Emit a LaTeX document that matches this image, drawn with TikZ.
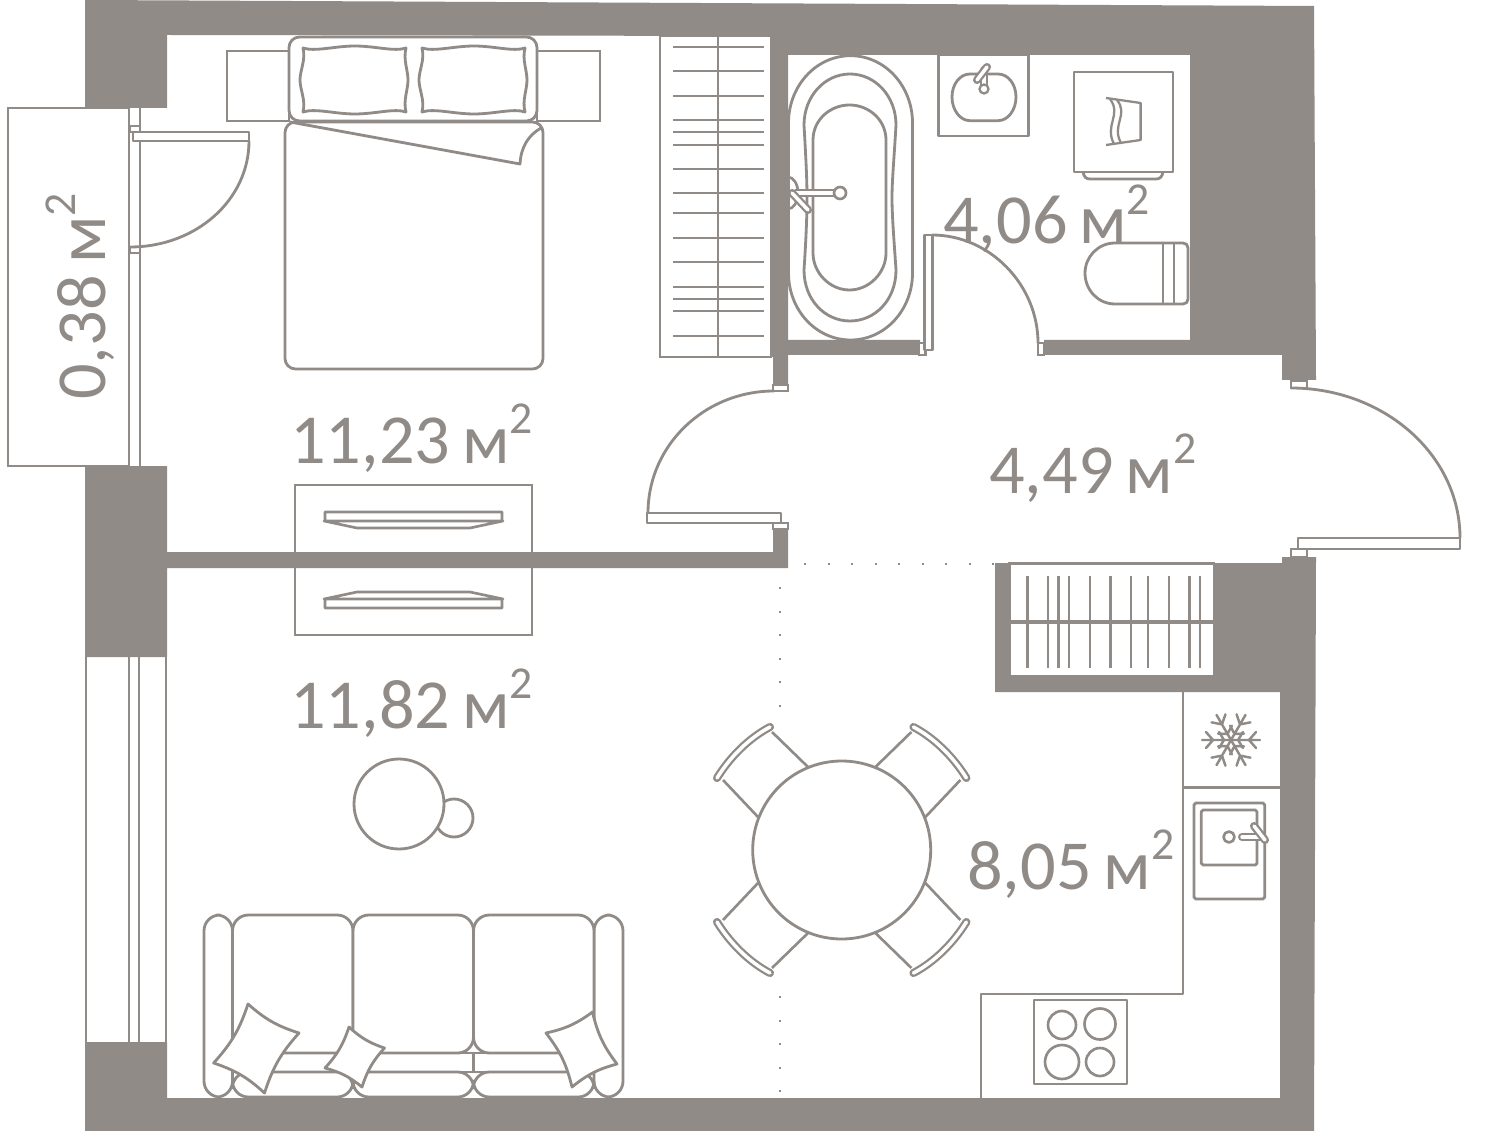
\documentclass[tikz,border=0pt]{standalone}
\usepackage{fontspec}
\setmainfont{Carlito}
\definecolor{wallgray}{RGB}{144,139,135}
\newcommand{\sqm}[1]{#1\,м\raisebox{0.425em}{\fontsize{26}{26}\selectfont 2}}
\newcommand{\flakearm}{\draw[thinline,line width=1.4pt,line cap=round] (0,0) -- (29,0) (18,0) -- (25,-8) (18,0) -- (25,8) (7,0) -- (12,-8) (7,0) -- (12,8);}
\newcommand{\bedpillow}{\draw[furn] (303,48) .. controls (315,52) and (335,46) .. (355,46) .. controls (375,46) and (395,52) .. (406,48) .. controls (403,60) and (408,70) .. (408,80) .. controls (408,90) and (403,100) .. (406,112) .. controls (395,108) and (375,114) .. (355,114) .. controls (335,114) and (315,108) .. (303,112) .. controls (306,100) and (300,90) .. (300,80) .. controls (300,70) and (306,60) .. (303,48) -- cycle;}
\tikzset{
	furn/.style={draw=wallgray,line width=1.6pt,fill=white,line join=round},
	outline/.style={draw=wallgray,line width=1.3pt,fill=white},
	thinline/.style={draw=wallgray,line width=1.5pt,line join=round},
	wall/.style={fill=wallgray},
	hingebox/.style={draw=wallgray,line width=1.2pt,fill=white},
	band/.style={draw=wallgray,line width=1.3pt,double=white,double distance=2pt,line cap=round},
	arealabel/.style={text=wallgray,font=\fontsize{40}{40}\selectfont,anchor=base west,inner sep=0pt},
	dots/.style={draw=wallgray,line width=1.2pt,dash pattern=on 1.2pt off 12.2pt}
}

\begin{document}
\begin{tikzpicture}[x=0.02cm,y=-0.02cm]
	\useasboundingbox (0,0) rectangle (1500,1131);
	% balcony and windows
	\draw[outline] (8,108) rectangle (129,466);
	\draw[outline] (129,108) -- (129,466) (140,108) -- (140,466);
	\draw[outline] (86,657) -- (86,1042) (129,657) -- (129,1042) (139,657) -- (139,1042) (166,657) -- (166,1042);
	% bedroom
	\draw[outline] (227,51) rectangle (289,121);
	\draw[outline] (537,51) rectangle (600,121);
	\draw[furn,rounded corners=6] (289,121) -- (289,37) -- (537,37) -- (537,121) -- cycle;
	\bedpillow
	\begin{scope}[shift={(119,0)}]\bedpillow\end{scope}
	\draw[furn,rounded corners=6] (285,122) rectangle (543,369);
	\draw[furn,fill=none] (290,122) -- (520,164) .. controls (521,146) and (529,135) .. (541,128);
	\draw[outline] (295,485) rectangle (532,560);
	\draw[outline] (295,560) rectangle (532,635);
	\draw[thinline] (325,512) rectangle (502,521) (324,521) -- (503,521) -- (470,528) -- (357,528) -- cycle;
	\draw[thinline] (325,599) rectangle (502,608) (324,599) -- (503,599) -- (470,592) -- (357,592) -- cycle;
	% wardrobe
	\draw[outline] (660,36) rectangle (771,357);
	\draw[thinline] (718,36) -- (718,357);
	\draw[thinline] (673,47) -- (764,47) (673,71) -- (764,71) (673,96) -- (764,96) (673,120) -- (764,120) (673,132) -- (764,132);
	\draw[thinline] (673,145) -- (764,145) (673,169) -- (764,169) (673,193) -- (764,193) (673,213) -- (764,213) (673,238) -- (764,238);
	\draw[thinline] (673,262) -- (764,262) (673,287) -- (764,287) (673,299) -- (764,299) (673,311) -- (764,311) (673,336) -- (764,336);
	% bathroom
	\draw[furn] (788.5,123) .. controls (788.5,86) and (816,55.7) .. (850.5,55.7) .. controls (885,55.7) and (912.5,86) .. (912.5,123) -- (912.5,273) .. controls (912.5,310) and (885,340) .. (850.5,340) .. controls (816,340) and (788.5,310) .. (788.5,273) -- cycle;
	\draw[furn] (804,125) .. controls (804,96) and (825,74) .. (850,74) .. controls (875,74) and (896,96) .. (896,125) .. controls (894,160) and (892,180) .. (892,198) .. controls (892,216) and (894,240) .. (896,270) .. controls (896,300) and (875,321) .. (850,321) .. controls (825,321) and (804,300) .. (804,270) .. controls (806,240) and (807,216) .. (807,198) .. controls (807,180) and (806,160) .. (804,125) -- cycle;
	\draw[furn] (813,140) .. controls (813,120) and (830,105) .. (849.5,105) .. controls (869,105) and (886,120) .. (886,140) -- (886,253) .. controls (886,273) and (869,290) .. (849.5,290) .. controls (830,290) and (813,273) .. (813,253) -- cycle;
	\draw[thinline] (788,193) ellipse [x radius=10,y radius=16];
	\draw[band] (796,193) -- (836,193);
	\draw[furn,line width=1.5pt] (840,193) circle [radius=6];
	\draw[band] (792,193) -- (808,210);
	\draw[furn] (938.5,55) rectangle (1028.4,136);
	\draw[furn,line width=1.6pt] (970,120.7) -- (998,120.7) .. controls (1008,120.7) and (1016,110) .. (1016,97) .. controls (1016,84) and (1008,74) .. (998,74) -- (970,74) .. controls (960,74) and (952,84) .. (952,97) .. controls (952,110) and (960,120.7) .. (970,120.7) -- cycle;
	\draw[band] (984,70) -- (984,87);
	\draw[furn,line width=1.3pt] (984,89) circle [radius=4.5];
	\draw[band] (977,80) -- (987,67);
	\draw[furn] (1074,72) rectangle (1173,172);
	\draw[furn,fill=none] (1083,172) .. controls (1084,177) and (1086,179) .. (1090,179) -- (1156,179) .. controls (1160,179) and (1162,177) .. (1163,172);
	\draw[thinline,line width=1.3pt] (1106,98) -- (1140.6,103) -- (1140.6,140) -- (1106,145);
	\draw[thinline,line width=1.3pt] (1110,99) .. controls (1122,115) and (1104,125) .. (1114,144) (1117,100) .. controls (1129,115) and (1111,125) .. (1121,143);
	\draw[furn] (1183,243) -- (1115,243) .. controls (1098,243) and (1085,257) .. (1085,273) .. controls (1085,290) and (1098,304) .. (1115,304) -- (1183,304) .. controls (1186,304) and (1188,302) .. (1188,299) -- (1188,248) .. controls (1188,245) and (1186,243) .. (1183,243) -- cycle;
	\draw[thinline] (1163,243) -- (1163,304) (1174,243) -- (1174,304);
	% living room and kitchen
	\draw[furn,rounded corners=9] (204,915) rectangle (232.5,1097);
	\draw[furn,rounded corners=9] (594,915) rectangle (623,1097);
	\draw[furn,rounded corners=9] (232.5,915) rectangle (353,1053);
	\draw[furn,rounded corners=9] (353,915) rectangle (473.5,1053);
	\draw[furn,rounded corners=9] (473.5,915) rectangle (594,1053);
	\draw[furn,rounded corners=9] (232.5,1072) rectangle (353,1097);
	\draw[furn,rounded corners=9] (353,1072) rectangle (473.5,1097);
	\draw[furn,rounded corners=9] (473.5,1072) rectangle (594,1097);
	\draw[furn] (232.5,1053) -- (232.5,1072) (353,1053) -- (353,1072) (473.5,1053) -- (473.5,1072) (594,1053) -- (594,1072);
	\draw[furn] (232.5,1053) -- (594,1053) (232.5,1072) -- (594,1072);
	\draw[furn] (248,1004) to[bend right=12] (299,1033) to[bend right=12] (264.5,1093) to[bend right=12] (213.6,1063) to[bend right=12] cycle;
	\draw[furn] (349,1027) to[bend right=12] (384.5,1048) to[bend right=12] (362,1087) to[bend right=12] (325,1068) to[bend right=12] cycle;
	\draw[furn] (592.5,1012) to[bend right=12] (617,1064) to[bend right=12] (572,1087) to[bend right=12] (546,1033) to[bend right=12] cycle;
	\draw[furn] (454,818) circle [radius=19];
	\draw[furn] (399,804) circle [radius=45];
	\draw[thinline] (808,767) -- (772,732) (758,817) -- (723,780);
	\draw[thinline] (875.4,767) -- (911.4,732) (925.4,817) -- (960.4,780);
	\draw[thinline] (808,933) -- (772,968) (758,883) -- (723,920);
	\draw[thinline] (875.4,933) -- (911.4,968) (925.4,883) -- (960.4,920);
	\draw[band] (770,727) .. controls (749,738) and (730,757) .. (717,778);
	\draw[band] (913.4,727) .. controls (934.4,738) and (953.4,757) .. (966.4,778);
	\draw[band] (770,973) .. controls (749,962) and (730,943) .. (717,922);
	\draw[band] (913.4,973) .. controls (934.4,962) and (953.4,943) .. (966.4,922);
	\draw[furn] (841.7,850) circle [radius=89];
	\draw[thinline] (1183,692) -- (1183,994) -- (981,994) -- (981,1098) (1183,787.5) -- (1280,787.5);
	\begin{scope}[shift={(1231,740)}]
		\flakearm
		\begin{scope}[rotate=60]\flakearm\end{scope}
		\begin{scope}[rotate=120]\flakearm\end{scope}
		\begin{scope}[rotate=180]\flakearm\end{scope}
		\begin{scope}[rotate=240]\flakearm\end{scope}
		\begin{scope}[rotate=300]\flakearm\end{scope}
	\end{scope}
	\draw[furn,rounded corners=1] (1194,803) rectangle (1264.7,899);
	\draw[furn,rounded corners=1] (1201.3,810) rectangle (1257,865);
	\draw[furn,line width=1.5pt] (1229,837) circle [radius=5.5];
	\draw[band] (1242,837) -- (1262,837);
	\draw[band] (1254,826) -- (1265,840);
	\draw[furn] (1034,1000) rectangle (1127,1084);
	\draw[furn,line width=1.5pt] (1062,1025) circle [radius=14];
	\draw[furn,line width=1.5pt] (1100,1024) circle [radius=15.5];
	\draw[furn,line width=1.5pt] (1062,1062) circle [radius=17];
	\draw[furn,line width=1.5pt] (1100,1062) circle [radius=14];
	\draw[dots] (804,564) -- (996,564);
	\draw[dots] (780,587) -- (780,710);
	\draw[dots] (780,996) -- (780,1096);
	% walls
	\fill[wall] (85,0) -- (1314,6) -- (1316,380) -- (1282,380) -- (1282,355) -- (1044,355) -- (1044,340) -- (1190,340) -- (1190,55) -- (788,55) -- (788,340) -- (920,340) -- (920,355) -- (788,355) -- (788,385) -- (773,385) -- (773,357) -- (771,357) -- (771,36) -- (167,35) -- (167,108) -- (85,108) -- cycle;
	\fill[wall] (85,466) -- (167,466) -- (167,552) -- (773,552) -- (773,529) -- (788,529) -- (788,568) -- (167,568) -- (167,657) -- (85,657) -- cycle;
	\fill[wall] (1282,557) -- (1316,557) -- (1314,1131) -- (85,1131) -- (85,1042) -- (167,1042) -- (167,1098) -- (1280,1098) -- (1280,692) -- (995,692) -- (995,563) -- (1282,563) -- cycle;
	\fill[white] (1011,565) rectangle (1213,675);
	\draw[thinline] (1008,563) -- (1215,563);
	\draw[thinline,line width=1.8pt] (1011,622) -- (1213,622);
	\draw[thinline] (1027.3,576) -- (1027.3,668) (1048,576) -- (1048,668) (1058.5,576) -- (1058.5,668) (1069,576) -- (1069,668);
	\draw[thinline] (1090,576) -- (1090,668) (1110.7,576) -- (1110.7,668) (1131,576) -- (1131,668) (1148,576) -- (1148,668);
	\draw[thinline] (1168.8,576) -- (1168.8,668) (1189.6,576) -- (1189.6,668) (1200,576) -- (1200,668);
	% doors
	\draw[hingebox] (130,126) rectangle (140,132);
	\draw[hingebox] (130,247) rectangle (140,253);
	\draw[furn,line width=1.5pt] (133,132) rectangle (249,141);
	\draw[furn,fill=none] (249,141) .. controls (249,200) and (196,247) .. (130,247);
	\draw[hingebox] (773,385) rectangle (788,391);
	\draw[hingebox] (773,523) rectangle (788,529);
	\draw[furn,line width=1.5pt] (647,513) rectangle (781,523);
	\draw[furn,fill=none] (648,513) .. controls (648,445) and (705,391) .. (774,391);
	\draw[hingebox] (919,343) rectangle (925.5,355);
	\draw[hingebox] (1038,343) rectangle (1044,355);
	\draw[furn,line width=1.5pt] (924.3,235) rectangle (932.8,350);
	\draw[furn,fill=none] (932,235) .. controls (990,235) and (1038,285) .. (1038,343);
	\draw[hingebox] (1291,381) rectangle (1307,388);
	\draw[hingebox] (1291,549) rectangle (1307,557);
	\draw[furn,line width=1.5pt] (1298,538) rectangle (1460,549);
	\draw[furn,fill=none] (1460,538) .. controls (1460,455) and (1384,388) .. (1291,388);
	% areas
	\node[arealabel,rotate=90] (balconyarea) at (105,400) {\sqm{0,38}};
	\node[arealabel] (bedarea) at (290,463) {\sqm{11,23}};
	\node[arealabel] (livingarea) at (290,728) {\sqm{11,82}};
	\node[arealabel] (bathingarea) at (943,244) {\sqm{4,06}};
	\node[arealabel] (hallarea) at (989,493) {\sqm{4,49}};
	\node[arealabel] (kitchenarea) at (967,889) {\sqm{8,05}};
\end{tikzpicture}
\end{document}
